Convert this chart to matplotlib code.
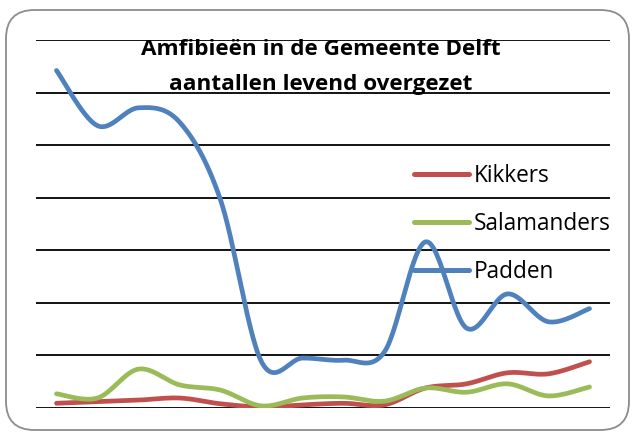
import numpy as np
import matplotlib
matplotlib.use("Agg")
import matplotlib.pyplot as plt
from matplotlib.patches import FancyBboxPatch

# ---- data (gridline step = 100) ----
periods = list(range(14))
kikkers = [9, 12, 15, 19, 8, 2, 6, 9, 6, 38, 46, 67, 65, 88]
salamanders = [27, 19, 74, 44, 34, 4, 19, 21, 13, 38, 30, 46, 23, 40]
padden = [642, 537, 571, 544, 396, 88, 95, 91, 107, 316, 152, 217, 164, 189]
series_names = ["Kikkers", "Salamanders", "Padden"]
series_colors = ["#C0504D", "#9BBB59", "#4F81BD"]
title_lines = ["Amfibieën in de Gemeente Delft", "aantallen levend overgezet"]


def smooth(x, y, n=30):
    x = np.asarray(x, float)
    y = np.asarray(y, float)
    px = np.concatenate([[x[0]], x, [x[-1]]])
    py = np.concatenate([[y[0]], y, [y[-1]]])
    xs, ys = [], []
    t = np.linspace(0, 1, n)
    for i in range(1, len(px) - 2):
        for arr_in, out in ((px, xs), (py, ys)):
            p0, p1, p2, p3 = arr_in[i - 1], arr_in[i], arr_in[i + 1], arr_in[i + 2]
            m1 = (p2 - p0) / 2.0
            m2 = (p3 - p1) / 2.0
            h00 = 2 * t**3 - 3 * t**2 + 1
            h10 = t**3 - 2 * t**2 + t
            h01 = -2 * t**3 + 3 * t**2
            h11 = t**3 - t**2
            out.append(h00 * p1 + h10 * m1 + h01 * p2 + h11 * m2)
    return np.concatenate(xs), np.concatenate(ys)


W, H = 634, 433
fig = plt.figure(figsize=(W / 100, H / 100), dpi=100)
fig.patch.set_facecolor("white")

# rounded chart border
border = FancyBboxPatch((6 / W, 3 / H), 623 / W, 420 / H,
                        boxstyle="round,pad=0,rounding_size=0.045",
                        transform=fig.transFigure, facecolor="none",
                        edgecolor="#8c8c8c", linewidth=1.3, mutation_aspect=W / H)
fig.patches.append(border)

ax = fig.add_axes([36 / W, (H - 408) / H, (610 - 36) / W, (408 - 40) / H])
ax.set_xlim(-0.5, 13.5)
ax.set_ylim(0, 700)
ax.set_yticks(np.arange(0, 701, 100))
ax.yaxis.grid(True, color="black", linewidth=1.3)
ax.set_axisbelow(True)
for s in ax.spines.values():
    s.set_visible(False)
ax.tick_params(left=False, bottom=False, labelleft=False, labelbottom=False)
ax.patch.set_alpha(0)

for name, vals, col in zip(series_names, [kikkers, salamanders, padden], series_colors):
    sx, sy = smooth(periods, vals)
    ax.plot(sx, sy, color=col, linewidth=3.4, solid_capstyle="round", label=name)

leg = fig.legend(loc="center left", bbox_to_anchor=(414 / W, 1 - 224 / H),
                 frameon=False, prop={"family": "Open Sans", "size": 16.3},
                 handlelength=2.43, handletextpad=0.22, labelspacing=1.07,
                 borderpad=0, borderaxespad=0)
for ln in leg.get_lines():
    ln.set_linewidth(3.6)
    ln.set_solid_capstyle("round")

for txt, base in zip(title_lines, [55, 90]):
    fig.text(321 / W, 1 - base / H, txt, ha="center", va="baseline",
             fontsize=16.2, fontweight="bold", family="Open Sans")

fig.savefig("out.png", dpi=100, facecolor="white")
